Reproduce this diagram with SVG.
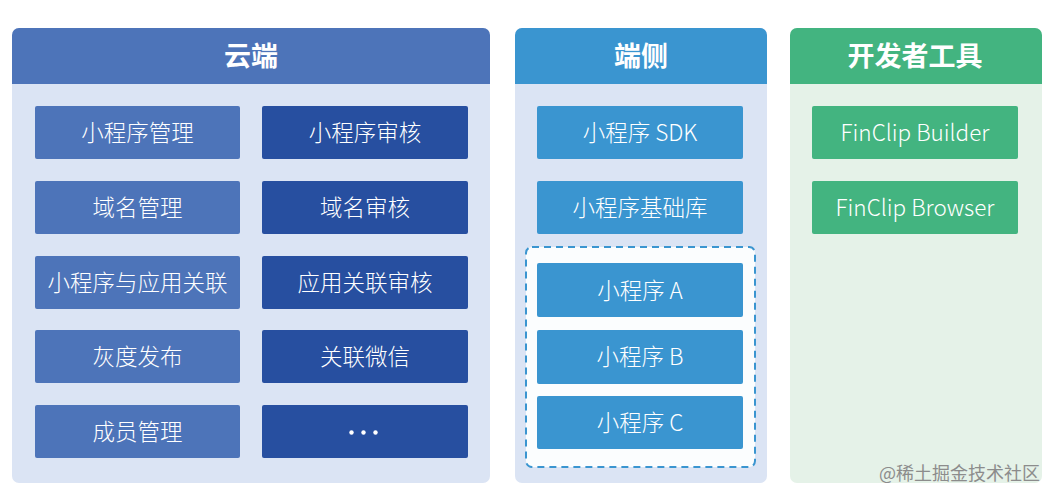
<svg xmlns="http://www.w3.org/2000/svg" width="1057" height="500" viewBox="0 0 1057 500">
<style>
.t{font-family:"Noto Sans CJK SC","Noto Sans",sans-serif;font-size:22.5px;font-weight:300;fill:#fff;text-anchor:middle}
.h{font-family:"Noto Sans CJK SC","Noto Sans",sans-serif;font-size:27px;font-weight:bold;fill:#fff;text-anchor:middle}
.b1{fill:#4d74b9}
.b2{fill:#274fa0}
.b3{fill:#3a95d0}
.b4{fill:#43b480}
.wm{font-family:"Noto Sans CJK SC","Noto Sans",sans-serif;font-size:18px;fill:#8c8c8c;text-anchor:end}
</style>
<rect width="1057" height="500" fill="#fff"/>
<g id="panel-cloud">
<rect x="12" y="28" width="478" height="455" rx="7" fill="#dbe4f4"/>
<path d="M12 84 V35 a7 7 0 0 1 7 -7 H483 a7 7 0 0 1 7 7 V84 Z" class="b1"/>
<text x="251" y="66" class="h">云端</text>
</g>
<g id="panel-client">
<rect x="515" y="28" width="252" height="455" rx="7" fill="#dbe4f4"/>
<path d="M515 84 V35 a7 7 0 0 1 7 -7 H760 a7 7 0 0 1 7 7 V84 Z" class="b3"/>
<text x="641" y="66" class="h">端侧</text>
</g>
<g id="panel-tools">
<rect x="790" y="28" width="252" height="455" rx="7" fill="#e5f2e8"/>
<path d="M790 84 V35 a7 7 0 0 1 7 -7 H1035 a7 7 0 0 1 7 7 V84 Z" class="b4"/>
<text x="915" y="66" class="h">开发者工具</text>
</g>
<g id="n-mp-manage"><rect x="35" y="106" width="205" height="53" rx="2" class="b1"/><text x="137.5" y="140.5" class="t">小程序管理</text></g>
<g id="n-domain-manage"><rect x="35" y="181" width="205" height="53" rx="2" class="b1"/><text x="137.5" y="215.5" class="t">域名管理</text></g>
<g id="n-mp-app-link"><rect x="35" y="256" width="205" height="53" rx="2" class="b1"/><text x="137.5" y="290.5" class="t">小程序与应用关联</text></g>
<g id="n-gray-release"><rect x="35" y="330" width="205" height="53" rx="2" class="b1"/><text x="137.5" y="364.5" class="t">灰度发布</text></g>
<g id="n-member-manage"><rect x="35" y="405" width="205" height="53" rx="2" class="b1"/><text x="137.5" y="439.5" class="t">成员管理</text></g>
<g id="n-mp-review"><rect x="262" y="106" width="206" height="53" rx="2" class="b2"/><text x="365" y="140.5" class="t">小程序审核</text></g>
<g id="n-domain-review"><rect x="262" y="181" width="206" height="53" rx="2" class="b2"/><text x="365" y="215.5" class="t">域名审核</text></g>
<g id="n-app-link-review"><rect x="262" y="256" width="206" height="53" rx="2" class="b2"/><text x="365" y="290.5" class="t">应用关联审核</text></g>
<g id="n-wechat-link"><rect x="262" y="330" width="206" height="53" rx="2" class="b2"/><text x="365" y="364.5" class="t">关联微信</text></g>
<g id="n-more"><rect x="262" y="405" width="206" height="53" rx="2" class="b2"/><circle cx="351.5" cy="432.5" r="2.2" fill="#fff"/><circle cx="363.5" cy="432.5" r="2.2" fill="#fff"/><circle cx="375.5" cy="432.5" r="2.2" fill="#fff"/></g>
<g id="n-sdk"><rect x="537" y="106" width="206" height="53" rx="2" class="b3"/><text x="640" y="140.5" class="t">小程序 SDK</text></g>
<g id="n-baselib"><rect x="537" y="181" width="206" height="53" rx="2" class="b3"/><text x="640" y="215.5" class="t">小程序基础库</text></g>
<g id="group-mps"><rect x="526" y="247" width="229" height="220" rx="6" fill="#fbfdfe" stroke="#3a95d0" stroke-width="2" stroke-dasharray="7 5"/></g>
<g id="n-mp-a"><rect x="537" y="263" width="206" height="54" rx="2" class="b3"/><text x="640" y="298.5" class="t">小程序 A</text></g>
<g id="n-mp-b"><rect x="537" y="330" width="206" height="54" rx="2" class="b3"/><text x="640" y="365" class="t">小程序 B</text></g>
<g id="n-mp-c"><rect x="537" y="396" width="206" height="53" rx="2" class="b3"/><text x="640" y="430.5" class="t">小程序 C</text></g>
<g id="n-builder"><rect x="812" y="106" width="206" height="53" rx="2" class="b4"/><text x="915" y="140.5" class="t">FinClip Builder</text></g>
<g id="n-browser"><rect x="812" y="181" width="206" height="53" rx="2" class="b4"/><text x="915" y="215.5" class="t">FinClip Browser</text></g>
<g id="connectors"></g>
<text x="1040" y="480" class="wm">@稀土掘金技术社区</text>
</svg>
